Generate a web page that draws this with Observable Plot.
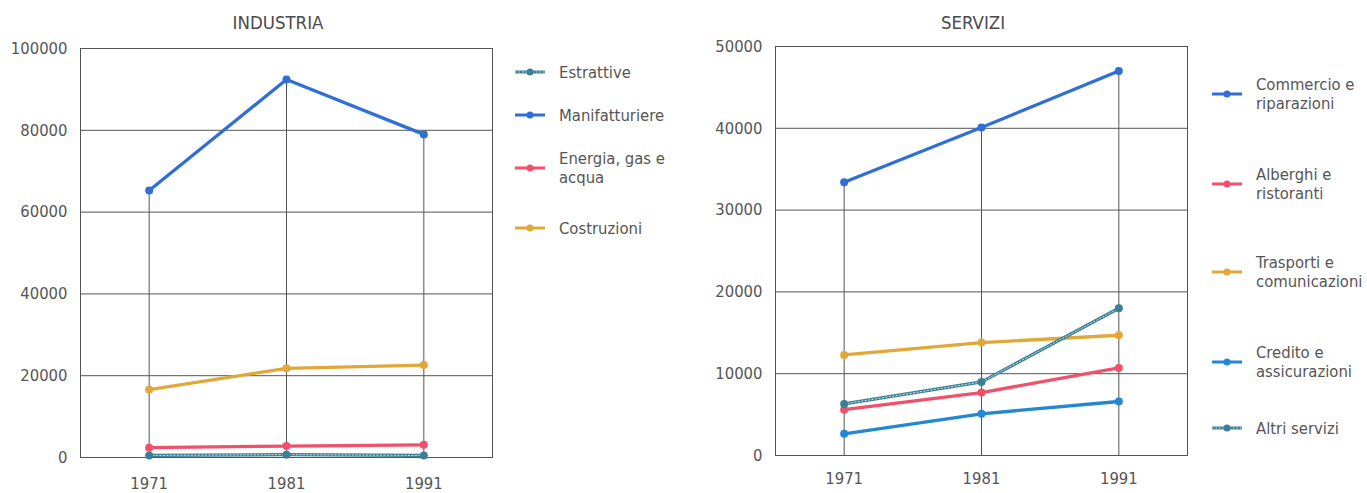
<!DOCTYPE html>
<html>
<head>
<meta charset="utf-8">
<script src="https://cdn.jsdelivr.net/npm/d3@7"></script>
<script src="https://cdn.jsdelivr.net/npm/@observablehq/plot@0.6"></script>
<style>
  html, body { margin: 0; padding: 0; background: #fff; }
  #root { position: relative; width: 1367px; height: 493px; overflow: hidden; }
  .abs { position: absolute; }
  .title { color: #4a4a4a; white-space: nowrap; transform: translateX(-50%); line-height: 1; }
  .leg { color: #555; line-height: 19px; }
  .leg svg { position: absolute; }
</style>
</head>
<body>
<div id="root"></div>
<script>
// ---- Data ----
const years = [1971, 1981, 1991];

// INDUSTRIA
const industriaSeries = ["Estrattive", "Manifatturiere", "Energia, gas e acqua", "Costruzioni"];
const industriaLabels = [["Estrattive"], ["Manifatturiere"], ["Energia, gas e", "acqua"], ["Costruzioni"]];
const estrattive     = [500, 700, 500];
const manifatturiere = [65300, 92400, 79000];
const energia        = [2400, 2800, 3100];
const costruzioni    = [16600, 21800, 22600];
const industriaValues = [estrattive, manifatturiere, energia, costruzioni];
const industriaColors = ["#3a7f95", "#2f6fd6", "#f0506a", "#e0a838"];
const industriaTicks = [0, 20000, 40000, 60000, 80000, 100000];

// SERVIZI
const serviziSeries = ["Commercio e riparazioni", "Alberghi e ristoranti", "Trasporti e comunicazioni", "Credito e assicurazioni", "Altri servizi"];
const serviziLabels = [["Commercio e", "riparazioni"], ["Alberghi e", "ristoranti"], ["Trasporti e", "comunicazioni"], ["Credito e", "assicurazioni"], ["Altri servizi"]];
const commercio  = [33400, 40100, 47000];
const alberghi   = [5600, 7700, 10700];
const trasporti  = [12300, 13800, 14700];
const credito    = [2650, 5100, 6600];
const altri      = [6300, 9000, 18000];
const serviziValues = [commercio, alberghi, trasporti, credito, altri];
const serviziColors = ["#2f6fd6", "#f0506a", "#e0a838", "#2288d0", "#3a7f95"];
const serviziTicks = [0, 10000, 20000, 30000, 40000, 50000];

// ---- Font detection ----
function hasFont(name) {
  const c = document.createElement("canvas").getContext("2d");
  const s = "Manifatturiere 100000 wwwiii";
  c.font = "40px monospace"; const w1 = c.measureText(s).width;
  c.font = `40px "${name}", monospace`; const w2 = c.measureText(s).width;
  c.font = "40px serif"; const w3 = c.measureText(s).width;
  c.font = `40px "${name}", serif`; const w4 = c.measureText(s).width;
  return w1 !== w2 || w3 !== w4;
}
let FONT = "Liberation Sans", FS = 17, TFS = 18;
if (hasFont("Liberation Sans Narrow")) { FONT = "Liberation Sans Narrow"; FS = 20; TFS = 21; }
else if (hasFont("DejaVu Sans Condensed")) { FONT = "DejaVu Sans Condensed"; FS = 16.5; TFS = 18.5; }

const root = document.getElementById("root");
root.style.fontFamily = `"${FONT}", sans-serif`;

function tidy(series, values) {
  const rows = [];
  series.forEach((s, i) => years.forEach((y, j) => rows.push({series: s, year: y, value: values[i][j]})));
  return rows;
}

function makeChart({series, values, colors, ticks, yMax, left, top, width, height, ml, mr, mt, mb, xPad, yPad}) {
  const data = tidy(series, values);
  const maxes = years.map((y, j) => ({year: y, max: d3.max(values, v => v[j])}));
  const teal = series[series.length === 4 ? 0 : 4];
  const chart = Plot.plot({
    width, height,
    marginLeft: ml, marginRight: mr, marginTop: mt, marginBottom: mb,
    style: {fontFamily: `"${FONT}", sans-serif`, fontSize: FS + "px", color: "#555", background: "transparent"},
    x: {domain: [1966, 1996], ticks: years, tickFormat: d => String(d), tickSize: 0, tickPadding: xPad, label: null},
    y: {domain: [0, yMax], ticks, tickFormat: d => String(d), tickSize: 0, tickPadding: yPad, label: null},
    color: {domain: series, range: colors},
    marks: [
      Plot.gridY(ticks, {stroke: "#555", strokeOpacity: 1, strokeWidth: 1}),
      Plot.ruleX(maxes, {x: "year", y1: 0, y2: "max", stroke: "#555", strokeWidth: 1}),
      Plot.frame({stroke: "#555", strokeWidth: 1}),
      Plot.axisX({ticks: years, tickFormat: d => String(d), tickSize: 0, tickPadding: xPad, fill: "#555", label: null}),
      Plot.axisY({ticks, tickFormat: d => String(d), tickSize: 0, tickPadding: yPad, fill: "#555", label: null}),
      Plot.line(data, {x: "year", y: "value", z: "series", stroke: "series", strokeWidth: 3.3, curve: "linear"}),
      Plot.line(data.filter(d => d.series === teal), {x: "year", y: "value", stroke: "#bfe0e6", strokeWidth: 1, strokeDasharray: "1.5,2"}),
      Plot.dot(data, {x: "year", y: "value", fill: "series", r: 4})
    ]
  });
  chart.style.position = "absolute";
  chart.style.left = left + "px";
  chart.style.top = top + "px";
  root.appendChild(chart);
}

function title(text, cx, cy) {
  const d = document.createElement("div");
  d.className = "abs title";
  d.textContent = text;
  d.style.left = cx + "px";
  d.style.top = (cy - TFS * 0.55) + "px";
  d.style.fontSize = TFS + "px";
  root.appendChild(d);
}

function legend(labels, colors, symX, textX, centers, tealIdx) {
  labels.forEach((lines, i) => {
    const cy = centers[i];
    const s = d3.create("svg").attr("width", 34).attr("height", 12)
      .style("position", "absolute").style("left", (symX - 2) + "px").style("top", (cy - 6) + "px");
    s.append("line").attr("x1", 2).attr("x2", 32).attr("y1", 6).attr("y2", 6)
      .attr("stroke", colors[i]).attr("stroke-width", 3);
    if (i === tealIdx) s.append("line").attr("x1", 2).attr("x2", 32).attr("y1", 6).attr("y2", 6)
      .attr("stroke", "#bfe0e6").attr("stroke-width", 1).attr("stroke-dasharray", "1.5,2");
    s.append("circle").attr("cx", 17).attr("cy", 6).attr("r", 3.5).attr("fill", colors[i]);
    root.appendChild(s.node());
    const d = document.createElement("div");
    d.className = "abs leg";
    d.style.fontSize = FS + "px";
    d.style.left = textX + "px";
    d.style.top = (cy - lines.length * 19 / 2) + "px";
    d.innerHTML = lines.map(l => `<div>${l}</div>`).join("");
    root.appendChild(d);
  });
}

// INDUSTRIA chart: frame x 80..492, y 48..457
makeChart({series: industriaSeries, values: industriaValues, colors: industriaColors, ticks: industriaTicks, yMax: 100000,
  left: 0, top: 40, width: 500, height: 453, ml: 80, mr: 8, mt: 8, mb: 36, xPad: 20, yPad: 13});
// SERVIZI chart: frame x 775..1187, y 46..455
makeChart({series: serviziSeries, values: serviziValues, colors: serviziColors, ticks: serviziTicks, yMax: 50000,
  left: 680, top: 38, width: 520, height: 455, ml: 95, mr: 13, mt: 8, mb: 38, xPad: 17, yPad: 13});

title("INDUSTRIA", 278, 24);
title("SERVIZI", 973, 24);

legend(industriaLabels, industriaColors, 515, 559, [72, 115, 168, 228], 0);
legend(serviziLabels, serviziColors, 1212, 1256, [94, 184, 272, 362, 428], 4);
</script>
</body>
</html>
